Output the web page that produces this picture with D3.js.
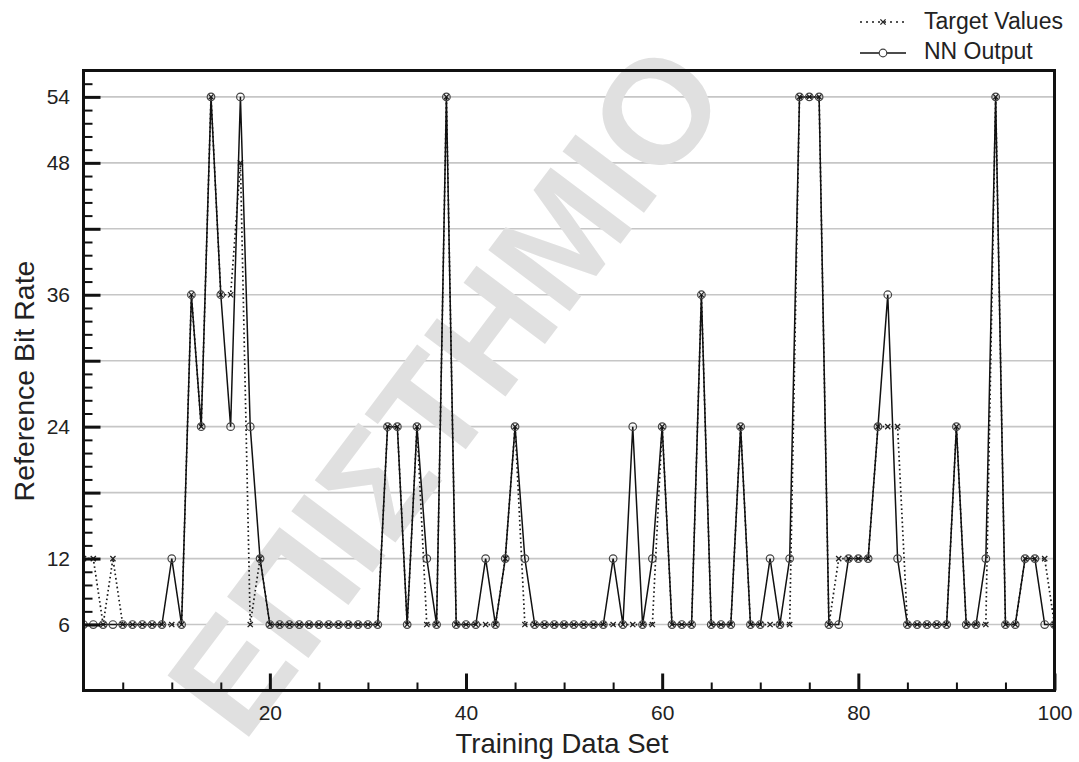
<!DOCTYPE html>
<html>
<head>
<meta charset="utf-8">
<script src="https://cdn.jsdelivr.net/npm/d3@7"></script>
<style>
  html, body { margin: 0; padding: 0; background: #fff; }
  svg { display: block; font-family: "Liberation Sans", Arial, Helvetica, sans-serif; }
</style>
</head>
<body>
<svg id="chart" width="1079" height="762"></svg>
<script>
// Reference bit rate per training data set: network output vs. target values
const nnOutput = [
  6, 6, 6, 6, 6, 6, 6, 6, 6, 12,
  6, 36, 24, 54, 36, 24, 54, 24, 12, 6,
  6, 6, 6, 6, 6, 6, 6, 6, 6, 6,
  6, 24, 24, 6, 24, 12, 6, 54, 6, 6,
  6, 12, 6, 12, 24, 12, 6, 6, 6, 6,
  6, 6, 6, 6, 12, 6, 24, 6, 12, 24,
  6, 6, 6, 36, 6, 6, 6, 24, 6, 6,
  12, 6, 12, 54, 54, 54, 6, 6, 12, 12,
  12, 24, 36, 12, 6, 6, 6, 6, 6, 24,
  6, 6, 12, 54, 6, 6, 12, 12, 6, 6
];
const targetValues = [
  12, 12, 6, 12, 6, 6, 6, 6, 6, 6,
  6, 36, 24, 54, 36, 36, 48, 6, 12, 6,
  6, 6, 6, 6, 6, 6, 6, 6, 6, 6,
  6, 24, 24, 6, 24, 6, 6, 54, 6, 6,
  6, 6, 6, 12, 24, 6, 6, 6, 6, 6,
  6, 6, 6, 6, 6, 6, 6, 6, 6, 24,
  6, 6, 6, 36, 6, 6, 6, 24, 6, 6,
  6, 6, 6, 54, 54, 54, 6, 12, 12, 12,
  12, 24, 24, 24, 6, 6, 6, 6, 6, 24,
  6, 6, 6, 54, 6, 6, 12, 12, 12, 6
];
const xTickValues = [20, 40, 60, 80, 100];
const yMajorTicks = [6, 12, 18, 24, 30, 36, 42, 48, 54];
const yTickLabels = [6, 12, 24, 36, 48, 54];
const seriesNames = ["Target Values", "NN Output"];
const watermarkText = "ΕΠΙΣΤΗΜΙΟ";

const svg = d3.select("#chart");
const plotLeft = 83.5, plotRight = 1054.5, plotTop = 70.5, plotBottom = 690.5;

const x = d3.scaleLinear().domain([1, 100]).range([plotLeft, plotRight]);
const y = d3.scaleLinear().domain([0, 56.4]).range([plotBottom, plotTop]);

const rows = nnOutput.map((v, i) => ({ set: i + 1, nn: v, target: targetValues[i] }));

// horizontal grid
svg.append("g")
  .selectAll("line")
  .data(yMajorTicks)
  .join("line")
  .attr("x1", plotLeft).attr("x2", plotRight)
  .attr("y1", d => y(d)).attr("y2", d => y(d))
  .attr("stroke", "#c6c6c6")
  .attr("stroke-width", 1.6);

// faint diagonal watermark
svg.append("text")
  .attr("transform", "translate(732,96) rotate(-53)")
  .attr("text-anchor", "end")
  .attr("fill", "#e0e0e0")
  .attr("font-weight", "bold")
  .attr("font-size", 148)
  .text(watermarkText);

// clip for data marks
svg.append("clipPath").attr("id", "plotClip")
  .append("rect")
  .attr("x", plotLeft).attr("y", plotTop)
  .attr("width", plotRight - plotLeft).attr("height", plotBottom - plotTop);

const plot = svg.append("g").attr("clip-path", "url(#plotClip)");

const crossPath = s => `M${-s},${-s}L${s},${s}M${-s},${s}L${s},${-s}`;

// target series: dotted line with x markers
plot.append("path")
  .datum(rows)
  .attr("fill", "none")
  .attr("stroke", "#1a1a1a")
  .attr("stroke-width", 1.7)
  .attr("stroke-dasharray", "1.6,2.8")
  .attr("d", d3.line().x(d => x(d.set)).y(d => y(d.target)));

plot.append("g")
  .selectAll("path")
  .data(rows)
  .join("path")
  .attr("transform", d => `translate(${x(d.set)},${y(d.target)})`)
  .attr("d", crossPath(2.6))
  .attr("stroke", "#222")
  .attr("stroke-width", 1.3)
  .attr("fill", "none");

// network output: solid line with open circles
plot.append("path")
  .datum(rows)
  .attr("fill", "none")
  .attr("stroke", "#111")
  .attr("stroke-width", 1.5)
  .attr("d", d3.line().x(d => x(d.set)).y(d => y(d.nn)));

plot.append("g")
  .selectAll("circle")
  .data(rows)
  .join("circle")
  .attr("cx", d => x(d.set))
  .attr("cy", d => y(d.nn))
  .attr("r", 3.8)
  .attr("fill", "none")
  .attr("stroke", "#444")
  .attr("stroke-width", 1.2);

// y axis: major ticks with labels, minor ticks between
const yAxis = d3.axisLeft(y)
  .tickValues(yMajorTicks)
  .tickSize(-17)
  .tickPadding(13.5)
  .tickFormat(d => yTickLabels.includes(d) ? d : "");
const gy = svg.append("g").attr("transform", `translate(${plotLeft},0)`).call(yAxis);
gy.select(".domain").remove();
gy.selectAll(".tick line").attr("stroke", "#111").attr("stroke-width", 3);
gy.selectAll(".tick text").attr("font-size", 21).attr("fill", "#222");

const yMinor = d3.range(6, 56.5, 1.2).filter(v => Math.abs(v / 6 - Math.round(v / 6)) > 0.01);
const gyMinor = svg.append("g").attr("transform", `translate(${plotLeft},0)`)
  .call(d3.axisLeft(y).tickValues(yMinor).tickSize(-9).tickFormat(""));
gyMinor.select(".domain").remove();
gyMinor.selectAll(".tick line").attr("stroke", "#111").attr("stroke-width", 2);

// x axis
const xAxis = d3.axisBottom(x)
  .tickValues(xTickValues)
  .tickSize(-17)
  .tickPadding(14.5);
const gx = svg.append("g").attr("transform", `translate(0,${plotBottom})`).call(xAxis);
gx.select(".domain").remove();
gx.selectAll(".tick line").attr("stroke", "#111").attr("stroke-width", 3);
gx.selectAll(".tick text").attr("font-size", 21).attr("fill", "#222");

const xMinor = d3.range(5, 100, 5).filter(v => v % 20 !== 0);
const gxMinor = svg.append("g").attr("transform", `translate(0,${plotBottom})`)
  .call(d3.axisBottom(x).tickValues(xMinor).tickSize(-8).tickFormat(""));
gxMinor.select(".domain").remove();
gxMinor.selectAll(".tick line").attr("stroke", "#111").attr("stroke-width", 2);

// plot frame
svg.append("rect")
  .attr("x", plotLeft).attr("y", plotTop)
  .attr("width", plotRight - plotLeft).attr("height", plotBottom - plotTop)
  .attr("fill", "none")
  .attr("stroke", "#111")
  .attr("stroke-width", 3);

// axis titles
svg.append("text")
  .attr("x", 562)
  .attr("y", 753)
  .attr("text-anchor", "middle")
  .attr("font-size", 27.5)
  .attr("fill", "#222")
  .text("Training Data Set");

svg.append("text")
  .attr("transform", "translate(34,381) rotate(-90)")
  .attr("text-anchor", "middle")
  .attr("font-size", 28.5)
  .attr("fill", "#222")
  .text("Reference Bit Rate");

// legend
const legend = svg.append("g");
const lx1 = 860, lx2 = 906, lxm = 883;
legend.append("line")
  .attr("x1", lx1).attr("x2", lx2).attr("y1", 22).attr("y2", 22)
  .attr("stroke", "#1a1a1a").attr("stroke-width", 1.5).attr("stroke-dasharray", "2,4");
legend.append("path")
  .attr("transform", `translate(${lxm},22)`)
  .attr("d", crossPath(2.6))
  .attr("stroke", "#222").attr("stroke-width", 1.3);
legend.append("line")
  .attr("x1", lx1).attr("x2", lx2).attr("y1", 53).attr("y2", 53)
  .attr("stroke", "#111").attr("stroke-width", 1.5);
legend.append("circle")
  .attr("cx", lxm).attr("cy", 53).attr("r", 3.8)
  .attr("fill", "#fff").attr("stroke", "#444").attr("stroke-width", 1.2);
legend.selectAll("text.lbl")
  .data(seriesNames)
  .join("text")
  .attr("class", "lbl")
  .attr("x", 924)
  .attr("y", (d, i) => 29 + i * 30)
  .attr("font-size", 23)
  .attr("fill", "#222")
  .text(d => d);
</script>
</body>
</html>
